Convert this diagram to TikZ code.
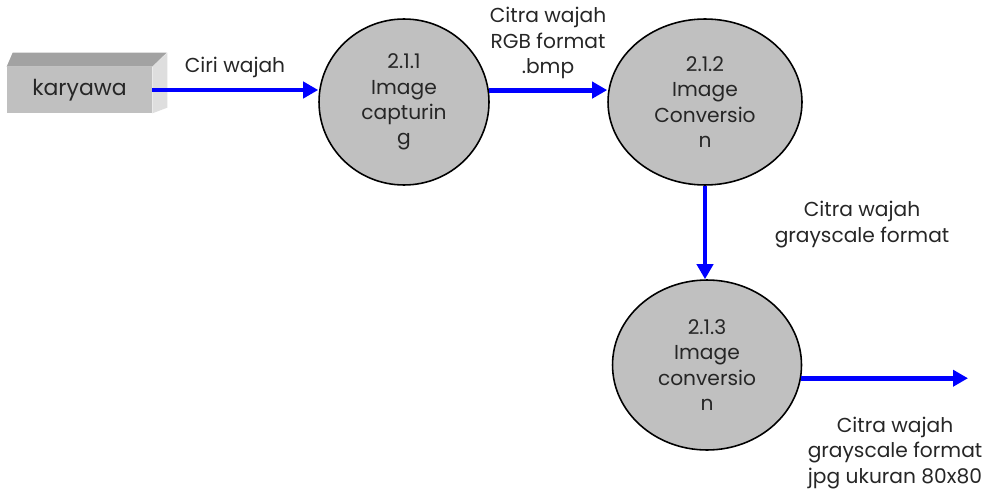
\documentclass[tikz,border=0pt]{standalone}
\usepackage{fontspec}
\setmainfont{Poppins}
\usetikzlibrary{shapes.geometric,arrows.meta}
\definecolor{procgray}{HTML}{C0C0C0}
\definecolor{topgray}{HTML}{A2A2A2}
\definecolor{sidegray}{HTML}{DEDEDE}
\definecolor{txtgray}{HTML}{262626}
\begin{document}
\begin{tikzpicture}[
		x=0.02cm, y=-0.02cm,
		every node/.style={text=txtgray, font=\fontsize{11.5}{14.4}\selectfont},
		proc/.style={ellipse, draw, line width=0.9pt, fill=procgray, inner sep=0pt, align=center, minimum height=3.32cm},
		entity/.style={rectangle, fill=procgray, inner sep=0pt, minimum width=2.9cm, minimum height=0.92cm, font=\fontsize{12.5}{14.4}\selectfont},
		flow/.style={draw=blue, line width=2.8pt, -{Triangle[length=0.3cm, width=0.32cm]}},
		lbl/.style={align=center}
		]
		\useasboundingbox (0,0) rectangle (999,493);
		% external entity drawn as a block
		\node[entity] (ent) at (79.5,90) {karyawa};
		\fill[topgray] (ent.north west) -- ++(6,-14) -- ++(154,0) -- (ent.north east) -- cycle;
		\fill[sidegray] (ent.north east) -- ++(15,-14) -- ++(0,55) -- (ent.south east) -- cycle;
		
		% processes
		\node[proc, minimum width=3.4cm] (p1) at (404,102) {2.1.1\\Image\\capturin\\g};
		\node[proc, minimum width=3.88cm] (p2) at (705,102) {2.1.2\\Image\\Conversio\\n};
		\node[proc, minimum width=3.78cm, minimum height=3.4cm] (p3) at (707,365) {2.1.3\\Image\\conversio\\n};
		\coordinate (out) at (968,378);
		
		% data flows
		\draw[flow] (ent.east) -- (ent.east -| p1.west);
		\draw[flow] (p1.8) -- (p1.8 -| p2.west);
		\draw[flow] (p2.south) -- (p2.south |- p3.north);
		\draw[flow] (p3.-8) -- (p3.-8 -| out);
		
		% flow labels
		\node[lbl] (f1) at (235,67) {Ciri wajah};
		\node[lbl] (f2) at (548,43) {Citra wajah\\RGB format\\.bmp};
		\node[lbl] (f3) at (862,224.5) {Citra wajah\\grayscale format};
		\node[lbl] (f4) at (895,453) {Citra wajah\\grayscale format\\jpg ukuran 80x80};
	\end{tikzpicture}
\end{document}
